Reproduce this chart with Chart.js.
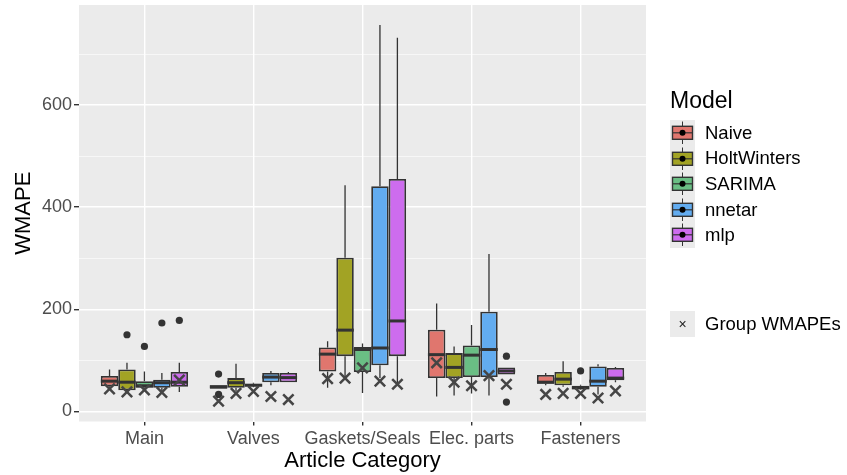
<!DOCTYPE html>
<html>
<head>
<meta charset="utf-8">
<script src="https://cdn.jsdelivr.net/npm/chart.js@4"></script>
<style>
  body { margin: 0; background: #fff; font-family: "Liberation Sans", Arial, sans-serif; }
  #wrap { position: relative; width: 847px; height: 475px; }
  #chart { position: absolute; left: 0; top: 0; }
  #legend { position: absolute; left: 670px; top: 85px; color: #000; }
  .lg-title { font-size: 23px; line-height: 30px; margin-bottom: 5px; }
  .lg-row { display: flex; align-items: center; height: 25.6px; }
  .lg-key { width: 25px; height: 25.6px; background: #ebebeb; }
  .lg-key svg { display: block; }
  .lg-label { font-size: 18.5px; margin-left: 10px; }
  #group { position: absolute; left: 670px; top: 311px; display: flex; align-items: center; }
  #group .lg-key { height: 26px; display: flex; align-items: center; justify-content: center; font-size: 14px; color: #222; }
</style>
</head>
<body>
<div id="wrap">
  <canvas id="chart" width="847" height="475"></canvas>
  <div id="legend"><div class="lg-title">Model</div></div>
  <div id="group"><div class="lg-key">×</div><div class="lg-label">Group WMAPEs</div></div>
</div>
<script>
(function() {
  const categories = ['Main', 'Valves', 'Gaskets/Seals', 'Elec. parts', 'Fasteners'];
  const models = ['Naive', 'HoltWinters', 'SARIMA', 'nnetar', 'mlp'];
  const colors = ['#e0766e', '#a2a324', '#6abe84', '#62acf0', '#cd6cee'];

  // [lower whisker, q1, median, q3, upper whisker] per category
  const naiveStats = [[44, 49, 59, 69, 82], [44, 44, 48, 51, 51], [46, 78, 112, 125, 137], [29, 65, 111, 160, 211], [51, 54, 57, 71, 75]];
  const holtStats = [[38, 41, 57, 82, 95], [40, 46, 56, 65, 93], [62, 108, 159, 301, 443], [31, 65, 86, 114, 127], [48, 51, 63, 77, 98]];
  const sarimaStats = [[42, 46, 50, 59, 78], [47, 49, 51, 54, 56], [36, 77, 121, 126, 133], [35, 67, 110, 129, 169], [42, 43, 46, 50, 52]];
  const nnetarStats = [[40, 46, 56, 62, 75], [51, 57, 67, 75, 79], [65, 90, 124, 441, 757], [31, 67, 121, 195, 308], [33, 48, 59, 88, 92]];
  const mlpStats = [[38, 48, 57, 77, 95], [57, 57, 66, 75, 77], [52, 108, 177, 455, 732], [72, 72, 79, 86, 86], [57, 61, 65, 85, 87]];

  // outliers: [category index, value]
  const naiveOut = [[1, 73], [1, 33]];
  const holtOut = [[0, 150]];
  const sarimaOut = [[0, 127], [4, 79]];
  const nnetarOut = [[0, 173]];
  const mlpOut = [[0, 178], [3, 108], [3, 18]];

  // group WMAPE per category
  const naiveGroup = [44, 20, 64, 95, 33];
  const holtGroup = [38, 35, 65, 57, 35];
  const sarimaGroup = [42, 39, 85, 50, 35];
  const nnetarGroup = [37, 29, 59, 70, 26];
  const mlpGroup = [61, 23, 53, 53, 40];

  const yTicks = [0, 200, 400, 600];

  const allStats = [naiveStats, holtStats, sarimaStats, nnetarStats, mlpStats];
  const allOut = [naiveOut, holtOut, sarimaOut, nnetarOut, mlpOut];
  const allGroup = [naiveGroup, holtGroup, sarimaGroup, nnetarGroup, mlpGroup];

  const datasets = models.map((m, i) => ({
    label: m,
    data: allStats[i].map((s, j) => ({ x: j + 1, y: [s[1], s[3]] })),
    backgroundColor: colors[i],
    borderColor: '#333333',
    borderWidth: 1.8,
    borderSkipped: false,
    categoryPercentage: 0.8,
    barPercentage: 1.0
  }));

  const boxPlugin = {
    id: 'boxExtras',
    beforeDraw(chart) {
      const { ctx, chartArea: a } = chart;
      ctx.save();
      ctx.fillStyle = '#ebebeb';
      ctx.fillRect(a.left, a.top, a.right - a.left, a.bottom - a.top);
      ctx.restore();
    },
    beforeDatasetsDraw(chart) {
      const ctx = chart.ctx;
      const y = chart.scales.y;
      ctx.save();
      ctx.strokeStyle = '#333333';
      ctx.lineWidth = 1.3;
      allStats.forEach((stats, i) => {
        const meta = chart.getDatasetMeta(i);
        stats.forEach((s, j) => {
          const x = meta.data[j].x;
          ctx.beginPath();
          ctx.moveTo(x, y.getPixelForValue(s[4]));
          ctx.lineTo(x, y.getPixelForValue(s[3]));
          ctx.moveTo(x, y.getPixelForValue(s[1]));
          ctx.lineTo(x, y.getPixelForValue(s[0]));
          ctx.stroke();
        });
      });
      ctx.restore();
    },
    afterDatasetsDraw(chart) {
      const ctx = chart.ctx;
      const y = chart.scales.y;
      ctx.save();
      allStats.forEach((stats, i) => {
        const meta = chart.getDatasetMeta(i);
        stats.forEach((s, j) => {
          const el = meta.data[j];
          const py = y.getPixelForValue(s[2]);
          ctx.strokeStyle = '#333333';
          ctx.lineWidth = 3;
          ctx.beginPath();
          ctx.moveTo(el.x - el.width / 2, py);
          ctx.lineTo(el.x + el.width / 2, py);
          ctx.stroke();
        });
        ctx.fillStyle = '#333333';
        allOut[i].forEach(([j, v]) => {
          ctx.beginPath();
          ctx.arc(meta.data[j].x, y.getPixelForValue(v), 3.6, 0, Math.PI * 2);
          ctx.fill();
        });
        ctx.strokeStyle = '#454545';
        ctx.lineWidth = 2.5;
        allGroup[i].forEach((v, j) => {
          const cx = meta.data[j].x, cy = y.getPixelForValue(v), r = 5.2;
          ctx.beginPath();
          ctx.moveTo(cx - r, cy - r); ctx.lineTo(cx + r, cy + r);
          ctx.moveTo(cx - r, cy + r); ctx.lineTo(cx + r, cy - r);
          ctx.stroke();
        });
      });
      ctx.restore();
    }
  };

  new Chart(document.getElementById('chart').getContext('2d'), {
    type: 'bar',
    data: { datasets },
    options: {
      responsive: false,
      animation: false,
      devicePixelRatio: 1,
      layout: { padding: { left: 0, right: 201, top: 5, bottom: 0 } },
      plugins: { legend: { display: false }, tooltip: { enabled: false } },
      scales: {
        x: {
          type: 'linear',
          min: 0.4,
          max: 5.6,
          offset: false,
          afterFit: (s) => { s.height = 53.5; s.paddingLeft = 0; s.paddingRight = 0; },
          ticks: {
            stepSize: 1,
            includeBounds: false,
            autoSkip: false,
            maxRotation: 0,
            padding: 3,
            color: '#4d4d4d',
            font: { family: 'Liberation Sans', size: 18 },
            callback: (v) => categories[v - 1] || ''
          },
          grid: { offset: false, color: '#ffffff', lineWidth: 1.4, tickColor: '#333333', tickLength: 4 },
          border: { display: false },
          title: {
            display: true,
            text: 'Article Category',
            color: '#000',
            font: { family: 'Liberation Sans', size: 22 },
            padding: { top: 0, bottom: 1 }
          }
        },
        y: {
          min: -20,
          max: 796,
          afterFit: (s) => { s.width = 79; s.paddingTop = 0; s.paddingBottom = 0; },
          ticks: {
            stepSize: 100,
            includeBounds: false,
            padding: 2,
            color: '#4d4d4d',
            font: { family: 'Liberation Sans', size: 18 },
            callback: (v) => yTicks.includes(v) ? v : ''
          },
          grid: {
            color: '#ffffff',
            lineWidth: (c) => yTicks.includes(c.tick && c.tick.value) ? 1.4 : 0.6,
            tickColor: (c) => yTicks.includes(c.tick && c.tick.value) ? '#333333' : 'rgba(0,0,0,0)',
            tickLength: 5
          },
          border: { display: false },
          title: {
            display: true,
            text: 'WMAPE',
            color: '#000',
            font: { family: 'Liberation Sans', size: 22 },
            padding: { top: 11, bottom: 0 }
          }
        }
      }
    },
    plugins: [boxPlugin]
  });

  // legend
  const legend = document.getElementById('legend');
  models.forEach((m, i) => {
    const row = document.createElement('div');
    row.className = 'lg-row';
    row.innerHTML = `
      <div class="lg-key"><svg width="25" height="25.6">
        <line x1="12.5" y1="1.5" x2="12.5" y2="24" stroke="#333" stroke-width="1"/>
        <rect x="2.5" y="6.3" width="20" height="13" fill="${colors[i]}" stroke="#333" stroke-width="1.4"/>
        <line x1="2.5" y1="12.8" x2="22.5" y2="12.8" stroke="#333" stroke-width="1.2"/>
        <circle cx="12.5" cy="12.8" r="3" fill="#000"/>
      </svg></div>
      <div class="lg-label">${m}</div>`;
    legend.appendChild(row);
  });
})();
</script>
</body>
</html>
